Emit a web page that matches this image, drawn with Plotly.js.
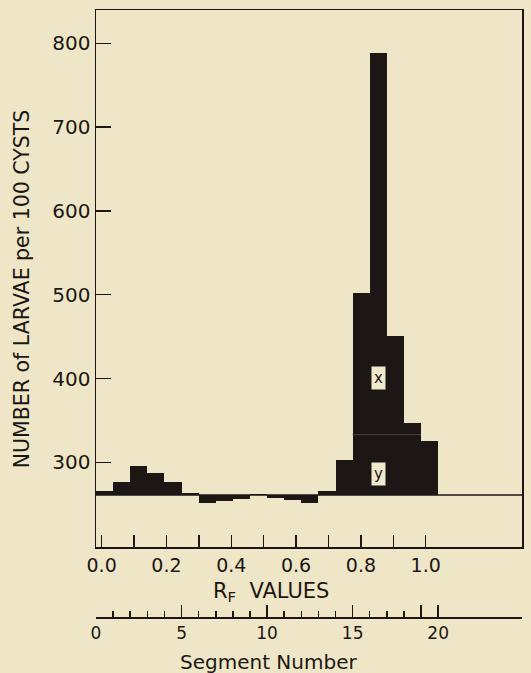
<!DOCTYPE html>
<html>
<head>
<meta charset="utf-8">
<script src="https://cdn.plot.ly/plotly-3.0.1.min.js"></script>
<style>
html,body{margin:0;padding:0;background:#eee6c6;}
#chart{width:531px;height:673px;}
</style>
</head>
<body>
<div id="chart"></div>
<script>
// ---- data ----
const segmentNumbers = [1,2,3,4,5,6,7,8,9,10,11,12,13,14,15,16,17,18,19,20];
const larvaeCounts   = [266,276,296,287,276,264,251,254,256,262,257,255,252,266,303,502,788,451,347,325];
const baselineLevel  = 261;
const splitSegments  = [16,17,18,19];   // segments where the x / y fractions are separated
const splitLevel     = 333;
const yTickValues    = [300,400,500,600,700,800];
const rfLabelTicks   = [0,0.2,0.4,0.6,0.8,1.0];
const rfTickLabels   = ['0.0','0.2','0.4','0.6','0.8','1.0'];
const rfPlainTicks   = [0.1,0.3,0.5,0.7,0.9];
const segLabelTicks  = [0,5,10,15,20];
const segTickLabels  = ['0','5','10','15','20'];
const segPlainLong   = [19,24.9];
const segMinorTicks  = [1,2,3,4,6,7,8,9,11,12,13,14,16,17,18];

const ink = '#1c1714';
const bg  = '#eee6c6';
const FONT = 'DejaVu Sans, sans-serif';
const SEG_RANGE = [0, 24.9];
const RF_RANGE  = [-0.0173, 1.297];

const bars = {
  type: 'bar',
  x: segmentNumbers.map(s => s - 0.5),
  y: larvaeCounts.map(v => v - baselineLevel),
  base: baselineLevel,
  width: 1,
  xaxis: 'x', yaxis: 'y',
  marker: {color: ink, line: {width: 0}},
  hoverinfo: 'skip', showlegend: false
};

const divider = {
  type: 'scatter', mode: 'lines',
  x: [Math.min(...splitSegments) - 1, Math.max(...splitSegments)],
  y: [splitLevel, splitLevel],
  xaxis: 'x', yaxis: 'y',
  line: {color: '#4a443c', width: 1},
  hoverinfo: 'skip', showlegend: false
};

// empty helper traces so that the overlaid axes are created and drawn
const helper = ax => ({type: 'scatter', mode: 'none', x: [], y: [], xaxis: ax, yaxis: 'y', showlegend: false, hoverinfo: 'skip'});

const tickBase = {ticks: 'inside', tickwidth: 1.5, tickcolor: ink, tickmode: 'array', showgrid: false, zeroline: false};

const layout = {
  width: 531, height: 673,
  paper_bgcolor: bg, plot_bgcolor: bg,
  margin: {l: 96, r: 9, t: 10, b: 56},
  font: {family: FONT, color: ink},
  bargap: 0,
  showlegend: false,
  // segment axis (labelled majors)
  xaxis: Object.assign({}, tickBase, {
    range: SEG_RANGE, domain: [0, 1], anchor: 'free', position: 0,
    showline: true, linecolor: ink, linewidth: 1.5, ticklen: 12,
    tickvals: segLabelTicks, ticktext: segTickLabels,
    tickfont: {size: 17, family: FONT, color: ink}
  }),
  // segment axis minor ticks
  xaxis3: Object.assign({}, tickBase, {
    range: SEG_RANGE, domain: [0, 1], overlaying: 'x', anchor: 'free', position: 0,
    showline: false, ticklen: 6, tickvals: segMinorTicks, showticklabels: false
  }),
  // segment axis unlabelled long ticks
  xaxis5: Object.assign({}, tickBase, {
    range: SEG_RANGE, domain: [0, 1], overlaying: 'x', anchor: 'free', position: 0,
    showline: false, ticklen: 12, tickvals: segPlainLong, showticklabels: false
  }),
  // RF axis (labelled)
  xaxis2: Object.assign({}, tickBase, {
    range: RF_RANGE, overlaying: 'x', anchor: 'y', side: 'bottom',
    showline: true, mirror: true, linecolor: ink, linewidth: 1.5, ticklen: 12,
    tickvals: rfLabelTicks, ticktext: rfTickLabels,
    tickfont: {size: 19, family: FONT, color: ink}
  }),
  // RF axis unlabelled ticks
  xaxis4: Object.assign({}, tickBase, {
    range: RF_RANGE, overlaying: 'x', anchor: 'y', side: 'bottom',
    showline: false, ticklen: 12, tickvals: rfPlainTicks, showticklabels: false
  }),
  yaxis: Object.assign({}, tickBase, {
    domain: [0.1148, 1], range: [198.6, 839.7],
    showline: true, mirror: true, linecolor: ink, linewidth: 1.5, ticklen: 15,
    tickvals: yTickValues,
    tickfont: {size: 20, family: FONT, color: ink}
  }),
  shapes: [{
    type: 'line', xref: 'paper', x0: 0, x1: 1, yref: 'y',
    y0: baselineLevel, y1: baselineLevel,
    line: {color: ink, width: 1.5}
  }],
  annotations: [
    {text: 'x', xref: 'x', yref: 'y', x: 16.5, y: 401, showarrow: false,
     bgcolor: '#f0e9cc', borderpad: 2, font: {size: 15, family: FONT, color: ink}},
    {text: 'y', xref: 'x', yref: 'y', x: 16.5, y: 286, showarrow: false,
     bgcolor: '#f0e9cc', borderpad: 2, font: {size: 15, family: FONT, color: ink}},
    {text: 'R<sub>F</sub>  VALUES', xref: 'x2', yref: 'paper', x: 0.523, y: 0.041,
     xanchor: 'center', yanchor: 'middle', showarrow: false,
     font: {size: 21, family: FONT, color: ink}},
    {text: 'Segment Number', xref: 'paper', yref: 'paper', x: 0.404, y: -0.0736,
     xanchor: 'center', yanchor: 'middle', showarrow: false,
     font: {size: 20, family: FONT, color: ink}},
    {text: 'NUMBER of LARVAE per 100 CYSTS', xref: 'paper', yref: 'paper',
     x: -0.1737, y: 0.540, xanchor: 'center', yanchor: 'middle', textangle: -90,
     showarrow: false, font: {size: 20.5, family: FONT, color: ink}}
  ]
};

Plotly.newPlot('chart',
  [bars, divider, helper('x2'), helper('x3'), helper('x4'), helper('x5')],
  layout, {displayModeBar: false, staticPlot: true});
</script>
</body>
</html>
